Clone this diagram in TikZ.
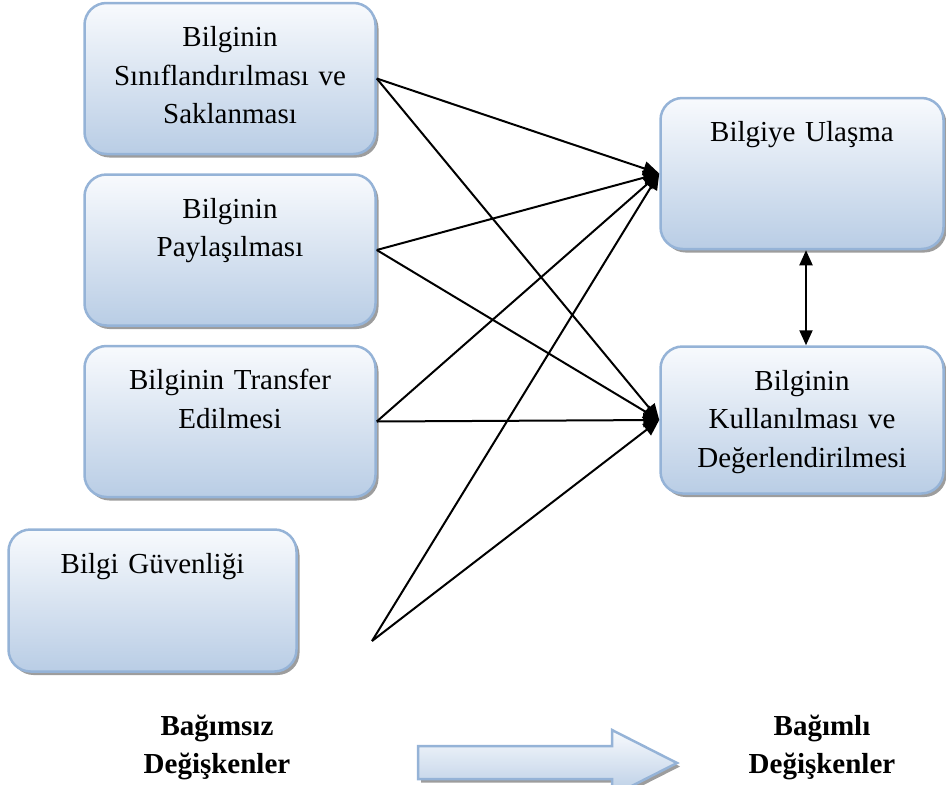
\documentclass[tikz,border=0pt]{standalone}
\usepackage{fontspec}
\setmainfont{Liberation Serif}
\usetikzlibrary{arrows.meta,shadows}
\definecolor{kenar}{HTML}{95B3D7}
\definecolor{ust}{HTML}{F8FAFD}
\definecolor{alt}{HTML}{B9CDE5}
\begin{document}
\begin{tikzpicture}[x=1pt,y=-1pt]
                \tikzstyle{dolgu}=[draw=kenar,line width=2.5pt,top color=ust,bottom color=alt,drop shadow={shadow xshift=3pt,shadow yshift=-3.5pt,fill=black!55,opacity=0.7}]
                \tikzstyle{kutu}=[dolgu,rectangle,rounded corners=22pt,minimum width=291pt,minimum height=151pt]
                \tikzstyle{yazi}=[text width=286pt,align=center,inner sep=0pt,anchor=base,font=\fontsize{29}{38.5}\selectfont]
                \tikzstyle{baslik}=[yazi,font=\fontsize{29}{38}\selectfont\bfseries]
                \tikzstyle{ok}=[line width=2pt,-{Triangle[length=16pt,width=14pt]}]
                \tikzstyle{iki ok}=[line width=2pt,{Triangle[length=15pt,width=13pt]}-{Triangle[length=15pt,width=13pt]}]
                \useasboundingbox (0,0) rectangle (946,785);
                \clip (0,0) rectangle (946,785);
                \node[kutu] (sinif) at (230,78.5) {};
                \node[kutu] (paylasim) at (230,250) {};
                \node[kutu] (transfer) at (230,421.5) {};
                \node[kutu,minimum width=288pt,minimum height=142pt] (guvenlik) at (152.5,600.5) {};
                \node[kutu,minimum width=283pt] (ulasma) at (802,173.5) {};
                \node[kutu,minimum width=283pt,minimum height=147pt] (kullanim) at (802,420) {};
                \node[yazi] (sinif-y) at ([yshift=-45pt]sinif.north) {Bilginin\\Sınıflandırılması ve\\Saklanması};
                \node[yazi] (paylasim-y) at ([yshift=-45pt]paylasim.north) {Bilginin\\Paylaşılması};
                \node[yazi] (transfer-y) at ([yshift=-45pt]transfer.north) {Bilginin Transfer\\Edilmesi};
                \node[yazi] (guvenlik-y) at ([yshift=-45pt]guvenlik.north) {Bilgi Güvenliği};
                \node[yazi] (ulasma-y) at ([yshift=-45pt]ulasma.north) {Bilgiye Ulaşma};
                \node[yazi] (kullanim-y) at ([yshift=-45pt]kullanim.north) {Bilginin\\Kullanılması ve\\Değerlendirilmesi};
                \coordinate (guvenlik-uc) at (372,641);
                \draw[ok] (sinif.east) -- (ulasma.west);
                \draw[ok] (sinif.east) -- (kullanim.west);
                \draw[ok] (paylasim.east) -- (ulasma.west);
                \draw[ok] (paylasim.east) -- (kullanim.west);
                \draw[ok] (transfer.east) -- (ulasma.west);
                \draw[ok] (transfer.east) -- (kullanim.west);
                \draw[ok] (guvenlik-uc) -- (ulasma.west);
                \draw[ok] (guvenlik-uc) -- (kullanim.west);
                \draw[iki ok] ([xshift=4pt]ulasma.south) -- ([xshift=4pt]kullanim.north);
                \draw[dolgu] (418,746) -- (612,746) -- (612,730) -- (677,763) -- (612,796) -- (612,779) -- (418,779) -- cycle;
                \node[baslik] (bagimsiz) at (217,735) {Bağımsız\\Değişkenler};
                \node[baslik] (bagimli) at (822,735) {Bağımlı\\Değişkenler};
            \end{tikzpicture}
\end{document}
